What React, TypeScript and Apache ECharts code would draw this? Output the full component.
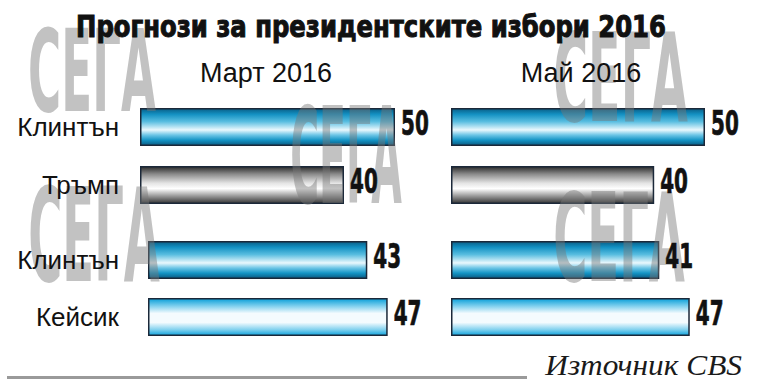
import React, { useEffect, useRef } from "react";
import * as echarts from "echarts";

const chartTitle = "Прогнози за президентските избори 2016";
const periods = ["Март 2016", "Май 2016"];
const matchupA = ["Клинтън", "Тръмп"];
const matchupB = ["Клинтън", "Кейсик"];
const marchA = [50, 40];
const marchB = [43, 47];
const mayA = [50, 40];
const mayB = [41, 47];
const sourceText = "Източник CBS";
const watermarkText = "СЕГА";
const axisMax = 50;

const grad = (stops: [number, string][]) =>
  new echarts.graphic.LinearGradient(0, 0, 0, 1, stops.map(([offset, color]) => ({ offset, color })));

const candidateColor: Record<string, () => any> = {
  "Клинтън": () =>
    grad([
      [0, "#0a5f88"],
      [0.15, "#1390c2"],
      [0.35, "#58bde0"],
      [0.58, "#eaf8fd"],
      [0.72, "#6cc5e6"],
      [0.86, "#1494c5"],
      [1, "#0a5a82"],
    ]),
  "Тръмп": () =>
    grad([
      [0, "#2c2c2c"],
      [0.2, "#8a8a8a"],
      [0.45, "#e4e4e4"],
      [0.6, "#ffffff"],
      [0.8, "#9a9a9a"],
      [1, "#363636"],
    ]),
  "Кейсик": () =>
    grad([
      [0, "#0a9fd8"],
      [0.2, "#7fd0ee"],
      [0.4, "#f4fbfe"],
      [0.65, "#f4fbfe"],
      [0.85, "#7fd0ee"],
      [1, "#12a3dc"],
    ]),
};

const nameFont = "'Liberation Sans', Arial, sans-serif";
const narrowFont = "'DejaVu Sans Condensed', 'DejaVu Sans', sans-serif";

export default function App() {
  const ref = useRef<HTMLDivElement>(null);
  useEffect(() => {
    if (!ref.current) return;
    const chart = echarts.init(ref.current, null, { renderer: "svg" });

    const panels = [
      { names: matchupA, values: marchA, grid: { left: 140, top: 98, width: 255, height: 116 }, showNames: true, margin: 21 },
      { names: matchupB, values: marchB, grid: { left: 148, top: 231.5, width: 255, height: 114 }, showNames: true, margin: 29 },
      { names: matchupA, values: mayA, grid: { left: 451, top: 98, width: 254, height: 116 }, showNames: false, margin: 0 },
      { names: matchupB, values: mayB, grid: { left: 451, top: 231.5, width: 254, height: 114 }, showNames: false, margin: 0 },
    ];

    const grids = panels.map((p) => p.grid);
    const xAxes = panels.map((_, i) => ({
      type: "value",
      gridIndex: i,
      min: 0,
      max: axisMax,
      show: false,
    }));
    const yAxes = panels.map((p, i) => ({
      type: "category",
      gridIndex: i,
      data: p.names,
      inverse: true,
      z: 10,
      axisLine: { show: false },
      axisTick: { show: false },
      axisLabel: {
        show: p.showNames,
        margin: p.margin,
        fontSize: 26,
        color: "#111",
        fontFamily: nameFont,
      },
    }));

    const series: any[] = [];
    panels.forEach((p, i) => {
      series.push({
        type: "bar",
        xAxisIndex: i,
        yAxisIndex: i,
        barWidth: 38,
        z: 2,
        data: p.values.map((v, j) => ({
          value: v,
          itemStyle: { color: candidateColor[p.names[j]](), borderColor: "#1b2839", borderWidth: 1.5 },
        })),
      });
      series.push({
        type: "custom",
        xAxisIndex: i,
        yAxisIndex: i,
        z: 10,
        encode: { x: 0, y: 1 },
        data: p.values.map((v, j) => [v, j]),
        renderItem: (_params: any, api: any) => {
          const v = api.value(0);
          const pt = api.coord([v, api.value(1)]);
          return {
            type: "text",
            x: pt[0] + 6,
            y: pt[1] - 4,
            scaleX: 0.74,
            scaleY: 1.14,
            style: {
              text: String(v),
              fontSize: 30,
              fontWeight: "bold",
              fontFamily: narrowFont,
              fill: "#111",
              stroke: "#111",
              lineWidth: 0.6,
              textAlign: "left",
              textVerticalAlign: "middle",
            },
          };
        },
      });
    });

    const marks = [
      { x0: 28, x1: 156, y0: 30, y1: 113 },
      { x0: 290, x1: 402, y0: 108, y1: 205 },
      { x0: 28, x1: 160, y0: 188, y1: 283 },
      { x0: 553, x1: 688, y0: 33, y1: 123 },
      { x0: 553, x1: 685, y0: 193, y1: 283 },
    ];
    const wmFontSize = 60;
    const wmNaturalW = 2.55 * wmFontSize;
    const wmCap = 0.73 * wmFontSize;

    const watermarkEls = marks.map((m) => ({
      type: "text",
      z: 5,
      x: (m.x0 + m.x1) / 2,
      y: (m.y0 + m.y1) / 2,
      scaleX: (m.x1 - m.x0) / wmNaturalW,
      scaleY: (m.y1 - m.y0) / wmCap,
      style: {
        text: watermarkText,
        fontSize: wmFontSize,
        fontWeight: "bold",
        fontFamily: narrowFont,
        fill: "rgba(120,120,120,0.45)",
        textVerticalAlign: "middle",
        textAlign: "center",
      },
    }));

    chart.setOption({
      animation: false,
      backgroundColor: "#ffffff",
      grid: grids,
      xAxis: xAxes,
      yAxis: yAxes,
      series,
      graphic: [
        ...watermarkEls,
        {
          type: "text",
          z: 20,
          x: 371,
          y: 26,
          scaleX: 0.9,
          scaleY: 1.02,
          style: {
            text: chartTitle,
            fontSize: 30,
            fontWeight: "bold",
            fontFamily: narrowFont,
            fill: "#111",
            stroke: "#111",
            lineWidth: 1,
            textAlign: "center",
            textVerticalAlign: "middle",
          },
        },
        {
          type: "text",
          z: 20,
          x: 266,
          y: 73,
          style: { text: periods[0], fontSize: 27, fontFamily: nameFont, fill: "#111", textAlign: "center", textVerticalAlign: "middle" },
        },
        {
          type: "text",
          z: 20,
          x: 581,
          y: 73,
          style: { text: periods[1], fontSize: 27, fontFamily: nameFont, fill: "#111", textAlign: "center", textVerticalAlign: "middle" },
        },
        {
          type: "line",
          z: 20,
          shape: { x1: 7, y1: 377.5, x2: 527, y2: 377.5 },
          style: { stroke: "#9a9a9a", lineWidth: 3 },
        },
        {
          type: "text",
          z: 20,
          x: 742,
          y: 365,
          scaleX: 1.12,
          scaleY: 1.05,
          style: {
            text: sourceText,
            fontSize: 28,
            fontStyle: "italic",
            fontFamily: "'Liberation Serif', 'Times New Roman', serif",
            fill: "#1a1a1a",
            textAlign: "right",
            textVerticalAlign: "middle",
          },
        },
      ],
    });
    return () => chart.dispose();
  }, []);
  return <div ref={ref} style={{ position: "absolute", left: 0, top: 0, width: 760, height: 392 }} />;
}
